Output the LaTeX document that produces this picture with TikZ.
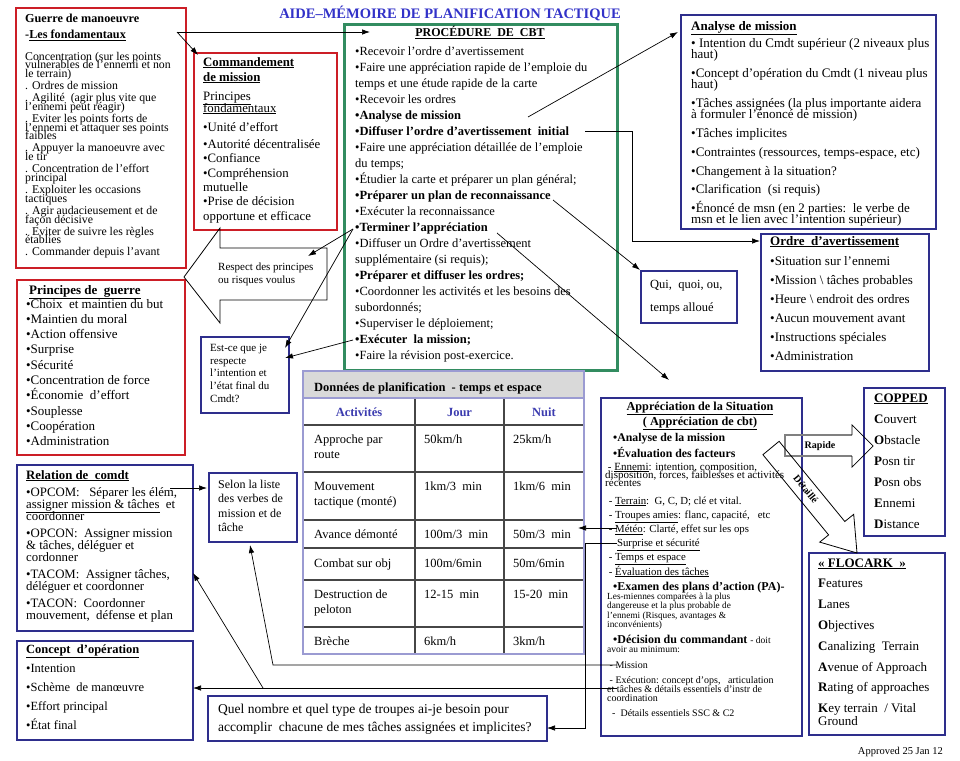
\documentclass[tikz,border=0pt]{standalone}
\usepackage{fontspec}
\setmainfont{Liberation Serif}
\usetikzlibrary{arrows.meta,positioning}
\definecolor{framered}{RGB}{204,30,38}
\definecolor{frameblue}{RGB}{46,46,140}
\definecolor{framegreen}{RGB}{50,140,96}
\definecolor{titleblue}{RGB}{50,50,200}
\definecolor{colblue}{RGB}{60,60,175}
\definecolor{headgray}{RGB}{217,217,217}
\definecolor{tableedge}{RGB}{155,155,210}
\definecolor{tableline}{RGB}{70,70,70}
\newcommand{\tightlines}{\lineskiplimit=-100pt\relax}
% memo nodes sit on the baseline of their last line
\tikzset{
  redframe/.style={draw=framered,line width=2.4pt,anchor=north west,inner sep=0pt},
  blueframe/.style={draw=frameblue,line width=2.2pt,anchor=north west,inner sep=0pt},
  greenframe/.style={draw=framegreen,line width=3pt,anchor=north west,inner sep=0pt},
  memo/.style={anchor=base west,inner sep=0pt,align=left},
  memohead/.style={inner sep=0pt,anchor=base},
  memoarrow/.style={-{Latex[length=8pt,width=5.5pt]},line width=0.7pt},
  tablerule/.style={tableline,line width=1.3pt}
}

\begin{document}
\begin{tikzpicture}[x=1pt,y=-1pt]
  \useasboundingbox (0,0) rectangle (960,760);
  \node[memohead,font=\fontsize{14.5}{17}\selectfont\bfseries,text=titleblue] (memotitle) at (450,19) {AIDE–MÉMOIRE DE PLANIFICATION TACTIQUE};

  % guerre de manoeuvre
  \node[redframe,minimum width=170pt,minimum height=260pt] (guerre) at (15,7) {};
  \node[memo,font=\fontsize{12.2}{17}\selectfont\bfseries] (guerre-t) at (25,39) {Guerre de manoeuvre\\-\underline{Les fondamentaux}};
  \node[memo,font=\fontsize{11.8}{8.7}\selectfont\tightlines] (guerre-b) at (25,255.9)
    {Concentration (sur les points\\vulnerables de l'ennemi et non\\le terrain)\\[3.4pt]%
     . Ordres de mission\\[3.4pt]%
     . Agilité\ \ (agir\ plus vite que\\l'ennemi\ peut réagir)\\[3.4pt]%
     . Eviter les\ points forts de\\l'ennemi\ et attaquer ses points\\faibles\\[3.4pt]%
     . Appuyer la manoeuvre avec\\le tir\\[3.4pt]%
     . Concentration de l'effort\\principal\\[3.4pt]%
     . Exploiter les occasions\\tactiques\\[3.4pt]%
     . Agir audacieusement\ et de\\façon décisive\\[3.4pt]%
     . Eviter de suivre les règles\\établies\\[3.4pt]%
     . Commander depuis l'avant};

  % commandement de mission
  \node[redframe,minimum width=143pt,minimum height=177pt] (cmdmsn) at (193,52) {};
  \node[memo,font=\fontsize{12.8}{15}\selectfont\tightlines] (cmdmsn-t) at (203,220)
    {\textbf{\underline{Commandement}}\\\textbf{\underline{de mission}}\\[4pt]%
     \underline{Principes}\\[-3pt]\underline{fondamentaux}\\[4pt]%
     •Unité d'effort\\[2pt]•Autorité décentralisée\\[-1pt]•Confiance\\•Compréhension\\[-1pt]%
     mutuelle\\[-1pt]•Prise de décision\\opportune et efficace};

  % procedure de cbt
  \node[greenframe,minimum width=273pt,minimum height=346pt] (proc) at (343,23) {};
  \node[memohead,font=\fontsize{12}{14}\selectfont\bfseries] (proc-t) at (480,37) {\underline{PROCÉDURE\ \ DE\ \ CBT}};
  \node[memo,font=\fontsize{12.5}{16}\selectfont\tightlines] (proc-b) at (355,359.5)
    {•Recevoir l'ordre d'avertissement\\%
     •Faire une appréciation rapide de l'emploie\ du\\%
     temps et une étude rapide de la carte\\%
     •Recevoir les ordres\\%
     \textbf{•Analyse de mission}\\%
     \textbf{•Diffuser l'ordre d'avertissement\ \ initial}\\%
     •Faire une appréciation détaillée de l'emploie\\%
     du temps;\\%
     •Étudier la carte et préparer un plan général;\\%
     \textbf{•Préparer un plan de reconnaissance}\\%
     •Exécuter la reconnaissance\\%
     \textbf{•Terminer l'appréciation}\\%
     •Diffuser un Ordre d'avertissement\\%
     supplémentaire (si requis);\\%
     \textbf{•Préparer et diffuser les ordres;}\\%
     •Coordonner les activités et les besoins des\\%
     subordonnés;\\%
     •Superviser le déploiement;\\%
     \textbf{•Exécuter\ \ la mission;}\\%
     •Faire la révision post-exercice.};

  % analyse de mission
  \node[blueframe,minimum width=255pt,minimum height=214pt] (analyse) at (680,14) {};
  \node[memo,font=\fontsize{13}{11.5}\selectfont\tightlines] (analyse-t) at (691,223.5)
    {\textbf{\underline{Analyse de mission}}\\[5.5pt]%
     • Intention du Cmdt\ supérieur (2 niveaux plus\\haut)\\[7pt]%
     •Concept d'opération du Cmdt\ (1 niveau plus\\haut)\\[7pt]%
     •Tâches assignées (la plus importante aidera\\à formuler\ l'énoncé de mission)\\[7.5pt]%
     •Tâches implicites\\[7.5pt]%
     •Contraintes (ressources, temps-espace, etc)\\[7pt]%
     •Changement à la situation?\\[7pt]%
     •Clarification\ \ (si requis)\\[7pt]%
     •Énoncé de msn (en 2 parties:\ \ le verbe de\\msn et le lien\ avec l'intention supérieur)};

  % ordre d'avertissement
  \node[blueframe,minimum width=168pt,minimum height=137pt] (ordre) at (760,233) {};
  \node[memo,font=\fontsize{13}{19}\selectfont\tightlines] (ordre-t) at (770,360)
    {\textbf{\underline{Ordre\ \ d'avertissement}}\\[1pt]%
     •Situation sur l'ennemi\\•Mission \textbackslash\ tâches probables\\•Heure \textbackslash\ endroit des ordres\\%
     •Aucun mouvement\ avant\\•Instructions spéciales\\•Administration};

  \node[blueframe,minimum width=96pt,minimum height=52pt] (qui) at (640,270) {};
  \node[memo,font=\fontsize{12.5}{23}\selectfont\tightlines] (qui-t) at (650,311.5) {Qui,\ \ quoi, ou,\\temps alloué};

  % principes de guerre
  \node[redframe,minimum width=168pt,minimum height=175pt] (principes) at (16,279) {};
  \node[memo,font=\fontsize{13}{14}\selectfont\bfseries] (principes-t) at (29,294) {\underline{Principes de\ \ guerre}};
  \node[memo,font=\fontsize{13}{15.3}\selectfont\tightlines] (principes-b) at (26,445.7)
    {•Choix\ \ et maintien\ du but\\•Maintien du moral\\•Action offensive\\•Surprise\\•Sécurité\\%
     •Concentration de force\\•Économie\ \ d'effort\\•Souplesse\\•Coopération\\•Administration};

  \node[blueframe,minimum width=88pt,minimum height=76pt] (estce) at (200,336) {};
  \node[memo,font=\fontsize{11}{12.7}\selectfont\tightlines] (estce-t) at (210,402.3) {Est-ce que je\\respecte\\l'intention et\\l'état final du\\Cmdt?};

  \draw[line width=0.8pt] (184,277) -- (220,228) -- (220,248) -- (327,248) -- (327,300) -- (220,300) -- (220,323) -- cycle;
  \node[memo,font=\fontsize{11}{13}\selectfont] (respect) at (218,283) {Respect des principes\\ou risques voulus};

  % tableau temps et espace
  \fill[headgray] (303,371) rectangle (584,398);
  \foreach \ry in {425,472,520,548,580,627}
    \draw[tablerule] (303,\ry) -- (584,\ry);
  \foreach \cx in {415,504}
    \draw[tablerule] (\cx,398) -- (\cx,654);
  \draw[tableedge,line width=1.3pt] (303,398) -- (584,398);
  \draw[tableedge,line width=2pt] (303,371) rectangle (584,654);
  \node[memo,font=\fontsize{12.5}{15}\selectfont\bfseries] (plan-t) at (314,391) {Données de planification\ \ - temps\ et espace};
  \node[memohead,font=\fontsize{12.5}{15}\selectfont\bfseries,text=colblue] (col-act) at (359,416) {Activités};
  \node[memohead,font=\fontsize{12.5}{15}\selectfont\bfseries,text=colblue] (col-jour) at (459.5,416) {Jour};
  \node[memohead,font=\fontsize{12.5}{15}\selectfont\bfseries,text=colblue] (col-nuit) at (544,416) {Nuit};
  \begin{scope}[every node/.style={memo,font=\fontsize{12.5}{15.5}\selectfont\tightlines}]
    \node (row-app) at (314,458.5) {Approche par\\route};
    \node (app-jour) at (424,443) {50km/h};
    \node (app-nuit) at (513,443) {25km/h};
    \node (row-mvt) at (314,505.5) {Mouvement\\tactique (monté)};
    \node (mvt-jour) at (424,490) {1km/3\ \ min};
    \node (mvt-nuit) at (513,490) {1km/6\ \ min};
    \node (row-avance) at (314,538) {Avance démonté};
    \node (avance-jour) at (424,538) {100m/3\ \ min};
    \node (avance-nuit) at (513,538) {50m/3\ \ min};
    \node (row-combat) at (314,567) {Combat sur obj};
    \node (combat-jour) at (424,567) {100m/6min};
    \node (combat-nuit) at (513,567) {50m/6min};
    \node (row-destr) at (314,613.5) {Destruction de\\peloton};
    \node (destr-jour) at (424,598) {12-15\ \ min};
    \node (destr-nuit) at (513,598) {15-20\ \ min};
    \node (row-breche) at (314,645) {Brèche};
    \node (breche-jour) at (424,645) {6km/h};
    \node (breche-nuit) at (513,645) {3km/h};
  \end{scope}

  % relation de comdt
  \node[blueframe,minimum width=176pt,minimum height=166pt] (relation) at (16,464) {};
  \node[memo,font=\fontsize{12.8}{12}\selectfont\tightlines] (relation-t) at (26,619)
    {\textbf{\underline{Relation de\ \ comdt}}\\[5pt]%
     •OPCOM:\ \ \ Séparer les élém,\\\underline{assigner mission \& tâches}\ \ et\\coordonner\\[5pt]%
     •OPCON:\ \ Assigner mission\\\& tâches, déléguer et\\cordonner\\[5pt]%
     •TACOM:\ \ Assigner tâches,\\déléguer et coordonner\\[5pt]%
     •TACON:\ \ Coordonner\\mouvement,\ \ défense et plan};

  \node[blueframe,minimum width=176pt,minimum height=99pt] (concept) at (16,640) {};
  \node[memo,font=\fontsize{12.5}{19}\selectfont\tightlines] (concept-t) at (26,729.5)
    {\textbf{\underline{Concept\ \ d'opération}}\\[0.5pt]•Intention\\•Schème\ \ de manœuvre\\•Effort\ principal\\•État final};

  \node[blueframe,minimum width=88pt,minimum height=69pt] (selon) at (208,472) {};
  \node[memo,font=\fontsize{12}{14.3}\selectfont\tightlines] (selon-t) at (218,531.4) {Selon la liste\\des verbes de\\mission et de\\tâche};

  \node[blueframe,minimum width=339pt,minimum height=45pt] (quel) at (207,695) {};
  \node[memo,font=\fontsize{13.5}{18}\selectfont\tightlines] (quel-t) at (218,731) {Quel nombre et quel type de troupes ai-je besoin pour\\accomplir\ \ chacune de mes tâches assignées et implicites?};

  % appreciation de la situation
  \node[blueframe,minimum width=201pt,minimum height=338pt] (appr) at (600,397) {};
  \node[memohead,font=\fontsize{12.2}{15}\selectfont\bfseries,align=center] (appr-t) at (700,425) {\underline{Appréciation de la Situation}\\\underline{(\ Appréciation de cbt)}};
  \node[memo,font=\fontsize{11.8}{16}\selectfont\bfseries] (appr-a) at (613,457) {•Analyse de la mission\\•Évaluation des facteurs};
  \node[memo,font=\fontsize{11}{8.3}\selectfont\tightlines] (appr-ennemi) at (605,486.6) {\ - \underline{Ennemi}: intention, composition,\\disposition, forces, faiblesses et activités\\récentes};
  \node[memo,font=\fontsize{10.8}{14.2}\selectfont\tightlines] (appr-fact) at (606,575)
    {\ - \underline{Terrain}:\ \ G, C, D; clé et vital.\\\ - \underline{Troupes amies}: flanc, capacité,\ \ \ etc\\%
     \ - \underline{Météo}: Clarté, effet sur les ops\\\ \ \ \ \underline{Surprise et sécurité}\\%
     \ - \underline{Temps et espace}\\\ - \underline{Évaluation des tâches}};
  \node[memo,font=\fontsize{12}{14}\selectfont\bfseries] (appr-pa) at (613,590) {•Examen des plans d'action (PA)-};
  \node[memo,font=\fontsize{9.3}{9.3}\selectfont\tightlines] (appr-pa-b) at (607,627.4) {Les-miennes comparées à la plus\\dangereuse et la plus probable de\\l'ennemi (Risques, avantages \&\\inconvénients)};
  \node[memo,font=\fontsize{12}{14}\selectfont] (appr-dec) at (613,643) {\textbf{•Décision du commandant} {\fontsize{9.5}{10}\selectfont - doit}};
  \node[memo,font=\fontsize{9.5}{10}\selectfont] (appr-dec-b) at (607,652.5) {avoir au minimum:};
  \node[memo,font=\fontsize{10}{9}\selectfont\tightlines] (appr-exec) at (607,716)
    {\ - Mission\\[6pt]\ - Exécution: concept d'ops,\ \ \ articulation\\et tâches \& détails essentiels d'instr de\\coordination\\[6pt]%
     \ \ -\ \ Détails essentiels SSC \& C2};

  % copped et flocark
  \node[blueframe,minimum width=81pt,minimum height=148pt] (copped) at (863,387) {};
  \node[memo,font=\fontsize{13}{21}\selectfont\tightlines] (copped-t) at (874,528)
    {\textbf{\underline{COPPED}}\\\textbf{C}ouvert\\\textbf{O}bstacle\\\textbf{P}osn tir\\\textbf{P}osn obs\\\textbf{E}nnemi\\\textbf{D}istance};
  \node[blueframe,minimum width=136pt,minimum height=182pt] (flocark) at (808,552) {};
  \node[memo,font=\fontsize{13}{20.8}\selectfont\tightlines] (flocark-t) at (818,725.6)
    {\textbf{\underline{«\ FLOCARK\ \ »}}\\\textbf{F}eatures\\\textbf{L}anes\\\textbf{O}bjectives\\\textbf{C}analizing\ \ Terrain\\%
     \textbf{A}venue of Approach\\\textbf{R}ating of approaches\\\textbf{K}ey terrain\ \ /\ Vital\\[-7.8pt]Ground};

  \node[inner sep=0pt,anchor=base east,font=\fontsize{10.5}{12}\selectfont] (approved) at (943,754) {Approved 25 Jan 12};

  % block arrows
  \draw[gray,line width=1.8pt] (852,435) -- (785,435) -- (785,456) -- (852,456);
  \draw[line width=0.7pt] (852,435) -- (852,425) -- (873,446) -- (852,467) -- (852,456);
  \node[font=\fontsize{10}{12}\selectfont\bfseries,inner sep=0pt] (rapide) at (820,446) {Rapide};
  \draw[line width=0.8pt] (779.1,441.3) -- (844.8,521.5) -- (853.7,514.3) -- (857,553)
    -- (819.7,542.1) -- (828.6,534.9) -- (762.9,454.7) -- cycle;
  \node[font=\fontsize{10}{12}\selectfont\bfseries,inner sep=0pt,rotate=-50.7] (detaille) at (806,489) {Détaillé};

  % connectors
  \coordinate (fond) at (177,32);
  \coordinate (proc-in) at (370,32);
  \coordinate (cmdmsn-in) at (198,55);
  \coordinate (p-analyse) at (528,117);
  \coordinate (analyse-in) at (678,32);
  \coordinate (p-diffuser) at (585,131);
  \coordinate (ordre-in) at (760,241);
  \coordinate (p-preparer) at (553,200);
  \coordinate (p-terminer) at (497,233);
  \coordinate (appr-in) at (669,380);
  \coordinate (p-terminer-l) at (353,229);
  \coordinate (respect-in) at (308,256);
  \coordinate (estce-in-a) at (285,348);
  \coordinate (p-executer) at (353,340);
  \coordinate (estce-in-b) at (285,358);
  \coordinate (meteo) at (617,528);
  \coordinate (table-in) at (578,528);
  \coordinate (surprise) at (617,543);
  \coordinate (quel-in) at (547,728);
  \coordinate (mission-pt) at (617,665);
  \coordinate (selon-in) at (250,545);
  \coordinate (exec-pt) at (617,688);
  \coordinate (exec-branch) at (263,688);
  \coordinate (concept-in) at (193,688);
  \coordinate (relation-in) at (193,573);
  \coordinate (opcom) at (170,488);
  \coordinate (selon-in-w) at (207,488);

  \draw[memoarrow] (fond) -- (proc-in);
  \draw[memoarrow] (fond) -- (cmdmsn-in);
  \draw[memoarrow] (p-analyse) -- (analyse-in);
  \draw[memoarrow] (p-diffuser) -- (632,131) -- (632,241) -- (ordre-in);
  \draw[memoarrow] (p-preparer) -- (qui.north west);
  \draw[memoarrow] (p-terminer) -- (appr-in);
  \draw[memoarrow] (p-terminer-l) -- (respect-in);
  \draw[memoarrow] (p-terminer-l) -- (estce-in-a);
  \draw[memoarrow] (p-executer) -- (estce-in-b);
  \draw[memoarrow] (meteo) -- (table-in);
  \draw[memoarrow] (surprise) -- (585,543) -- (585,728) -- (quel-in);
  \draw[memoarrow] (mission-pt) -- (273,665) -- (selon-in);
  \draw[memoarrow] (exec-pt) -- (concept-in);
  \draw[memoarrow] (exec-branch) -- (relation-in);
  \draw[memoarrow] (opcom) -- (selon-in-w);
\end{tikzpicture}
\end{document}
